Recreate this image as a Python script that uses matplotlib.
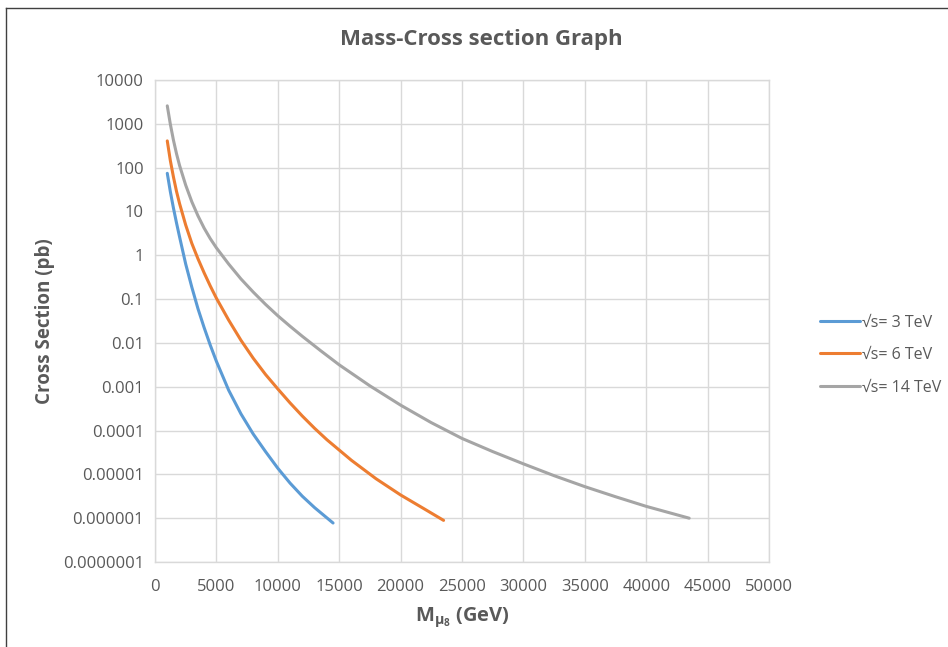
import matplotlib
matplotlib.use("Agg")
import matplotlib.pyplot as plt
from matplotlib.lines import Line2D

# Gluino-like mass points (GeV) and log10 of cross section (pb) for each collider energy
mass_3tev = [1000, 1250, 1500, 1750, 2000, 2500, 3000, 3500, 4000, 4500, 5000, 6000,
             7000, 8000, 9000, 10000, 11000, 12000, 13000, 14500]
logxs_3tev = [1.87, 1.45, 1.08, 0.74, 0.42, -0.20, -0.73, -1.22, -1.65, -2.05, -2.42, -3.08,
              -3.62, -4.08, -4.48, -4.86, -5.20, -5.50, -5.76, -6.11]

mass_6tev = [1000, 1250, 1500, 1750, 2000, 2500, 3000, 3500, 4000, 4500, 5000, 6000, 7000,
             8000, 9000, 10000, 11000, 12000, 13000, 14000, 16000, 18000, 20000, 22000, 23500]
logxs_6tev = [2.61, 2.16, 1.79, 1.46, 1.18, 0.69, 0.27, -0.08, -0.40, -0.70, -0.98, -1.48,
              -1.94, -2.35, -2.72, -3.05, -3.37, -3.67, -3.95, -4.21, -4.68, -5.10, -5.47,
              -5.80, -6.05]

mass_14tev = [1000, 1250, 1500, 1750, 2000, 2500, 3000, 3500, 4000, 4500, 5000, 6000, 7000,
              8000, 9000, 10000, 11000, 12000, 13500, 15000, 17500, 20000, 22500, 25000,
              27500, 30000, 32500, 35000, 37500, 40000, 43500]
logxs_14tev = [3.41, 2.99, 2.63, 2.32, 2.05, 1.60, 1.22, 0.90, 0.62, 0.38, 0.17, -0.20, -0.54,
               -0.84, -1.12, -1.38, -1.62, -1.85, -2.18, -2.50, -2.98, -3.42, -3.82, -4.18,
               -4.48, -4.76, -5.03, -5.28, -5.51, -5.73, -6.00]

labels = ["√s= 3 TeV", "√s= 6 TeV", "√s= 14 TeV"]
colors = ["#5B9BD5", "#ED7D31", "#A5A5A5"]

y_ticks = [1e4, 1e3, 1e2, 1e1, 1, 1e-1, 1e-2, 1e-3, 1e-4, 1e-5, 1e-6, 1e-7]
y_tick_labels = ["10000", "1000", "100", "10", "1", "0.1", "0.01", "0.001", "0.0001",
                 "0.00001", "0.000001", "0.0000001"]
x_ticks = list(range(0, 50001, 5000))

text_col = "#595959"
grid_col = "#D9D9D9"

plt.rcParams["font.family"] = ["Open Sans", "DejaVu Sans"]
plt.rcParams["mathtext.fontset"] = "custom"
plt.rcParams["mathtext.rm"] = "Open Sans"
plt.rcParams["mathtext.bf"] = "Open Sans:bold"

fig = plt.figure(figsize=(9.48, 6.47), dpi=100)
ax = fig.add_axes([155 / 948, 1 - 562 / 647, (769 - 155) / 948, (562 - 80) / 647])

series = [(mass_3tev, logxs_3tev), (mass_6tev, logxs_6tev), (mass_14tev, logxs_14tev)]
for (m, lx), lab, c in zip(series, labels, colors):
    ax.plot(m, [10 ** v for v in lx], color=c, lw=2.2, label=lab,
            solid_capstyle="round", solid_joinstyle="round")

ax.set_yscale("log")
ax.set_xlim(0, 50000)
ax.set_ylim(1e-7, 1e4)
ax.set_xticks(x_ticks)
ax.set_xticklabels([str(v) for v in x_ticks])
ax.set_yticks(y_ticks)
ax.set_yticklabels(y_tick_labels)
ax.minorticks_off()
ax.tick_params(length=0, labelsize=12, labelcolor=text_col)
ax.tick_params(axis="x", pad=12)
ax.tick_params(axis="y", pad=8)
ax.grid(True, color=grid_col, lw=1)
for s in ax.spines.values():
    s.set_color(grid_col)
    s.set_linewidth(1)

fig.text(481 / 948, 1 - 40 / 647, "Mass-Cross section Graph", ha="center", va="center",
         fontsize=16, fontweight="bold", color=text_col)
fig.text(45 / 948, 1 - 321 / 647, "Cross Section (pb)", ha="center", va="center",
         rotation=90, fontsize=13.5, fontweight="bold", color=text_col)
fig.text(462 / 948, 1 - 617 / 647, r"$\mathbf{M_{μ_8}}$ (GeV)", ha="center", va="center",
         fontsize=14.5, fontweight="bold", color=text_col)

ax.legend(loc="center left", bbox_to_anchor=(814 / 948, 1 - 355 / 647),
          bbox_transform=fig.transFigure, frameon=False, fontsize=11.5,
          labelcolor=text_col, handlelength=2.5, handletextpad=0.1, labelspacing=1.03,
          borderaxespad=0)

# frame edges of the chart area
fig.add_artist(Line2D([6 / 948, 6 / 948], [0, 1 - 8 / 647], color="#404040", lw=1))
fig.add_artist(Line2D([6 / 948, 1], [1 - 8 / 647, 1 - 8 / 647], color="#404040", lw=1))

fig.savefig("out.png", dpi=100)
